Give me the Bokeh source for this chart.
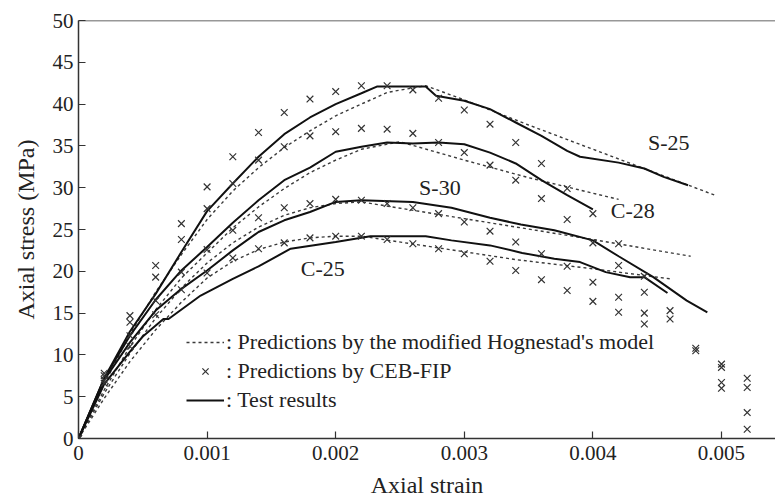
from bokeh.plotting import figure
from bokeh.models import Range1d, FixedTicker, Span, Legend, LegendItem
from bokeh.embed import file_html
from bokeh.resources import INLINE
from bokeh.core.properties import value

# ---------------- data ----------------
# CEB-FIP predictions (x markers)
ceb_strain_S25 = [0, 0.0002, 0.0004, 0.0006, 0.0008, 0.001, 0.0012, 0.0014, 0.0016, 0.0018, 0.002,
                  0.0022, 0.0024, 0.0026, 0.0028, 0.003, 0.0032, 0.0034, 0.0036, 0.0038, 0.004,
                  0.0042, 0.0044, 0.0046, 0.0048, 0.005, 0.0052]
ceb_S25 = [0, 7.8, 14.7, 20.7, 25.7, 30.1, 33.7, 36.6, 39.0, 40.6, 41.5, 42.2, 42.2, 41.7, 40.7,
           39.3, 37.6, 35.4, 32.9, 29.9, 26.9, 23.3, 19.4, 15.3, 10.8, 6.0, 1.1]
ceb_strain_C28 = ceb_strain_S25
ceb_C28 = [0, 7.5, 13.9, 19.3, 23.8, 27.5, 30.5, 33.3, 34.9, 36.2, 36.7, 37.1, 37.0, 36.5, 35.4,
           34.2, 32.7, 30.9, 28.7, 26.2, 23.4, 20.7, 17.5, 14.3, 10.5, 6.7, 3.1]
ceb_strain_S30 = [0, 0.0002, 0.0004, 0.0006, 0.0008, 0.001, 0.0012, 0.0014, 0.0016, 0.0018, 0.002,
                  0.0022, 0.0024, 0.0026, 0.0028, 0.003, 0.0032, 0.0034, 0.0036, 0.0038, 0.004,
                  0.0042, 0.0044, 0.005, 0.0052]
ceb_S30 = [0, 7.0, 12.3, 16.5, 19.9, 22.6, 24.9, 26.4, 27.6, 28.1, 28.6, 28.5, 28.1, 27.6, 26.9,
           25.9, 24.8, 23.5, 22.1, 20.6, 18.7, 16.9, 15.0, 8.9, 7.2]
ceb_strain_C25 = ceb_strain_S30
ceb_C25 = [0, 6.6, 11.0, 14.8, 17.8, 19.8, 21.6, 22.7, 23.4, 24.0, 24.2, 24.2, 23.8, 23.3, 22.7,
           22.1, 21.2, 20.1, 19.0, 17.7, 16.4, 15.1, 13.7, 8.5, 6.1]

# Modified Hognestad's model predictions (dashed)
hog_strain_S25 = [0, 0.0002, 0.0004, 0.0006, 0.0008, 0.001, 0.0012, 0.0014, 0.0016, 0.0018, 0.002,
                  0.0022, 0.0024, 0.0027, 0.003, 0.0035, 0.004, 0.0045, 0.00495]
hog_S25 = [0, 6.5, 12.5, 17.5, 22.0, 26.2, 29.6, 32.4, 34.8, 36.8, 38.6, 40.0, 41.4, 42.2, 40.5,
           37.5, 34.6, 31.7, 29.1]
hog_strain_C28 = [0, 0.0002, 0.0004, 0.0006, 0.0008, 0.001, 0.0012, 0.0014, 0.0016, 0.0018, 0.002,
                  0.0022, 0.0025, 0.003, 0.0035, 0.0042]
hog_C28 = [0, 5.8, 11.0, 15.4, 19.2, 22.2, 25.2, 27.7, 29.9, 31.8, 33.3, 34.6, 35.5, 33.3, 31.2, 28.6]
hog_strain_S30 = [0, 0.0002, 0.0004, 0.0006, 0.0008, 0.001, 0.0012, 0.0014, 0.0016, 0.0018, 0.002,
                  0.0022, 0.003, 0.004, 0.00476]
hog_S30 = [0, 5.4, 10.2, 14.4, 18.0, 21.0, 23.4, 25.3, 26.7, 27.6, 28.1, 28.3, 26.3, 23.8, 21.8]
hog_strain_C25 = [0, 0.0002, 0.0004, 0.0006, 0.0008, 0.001, 0.0012, 0.0014, 0.0016, 0.0018, 0.002,
                  0.0022, 0.0028, 0.0034, 0.004, 0.0046]
hog_C25 = [0, 4.8, 9.2, 13.0, 16.3, 19.2, 21.2, 22.6, 23.5, 24.0, 24.2, 24.2, 22.8, 21.4, 20.3, 19.1]

# Test results (solid)
test_strain_S25 = [0, 0.0002, 0.0004, 0.0006, 0.0008, 0.001, 0.0012, 0.0014, 0.0016, 0.0018, 0.002,
                   0.0022, 0.00232, 0.0027, 0.00278, 0.003, 0.0032, 0.0034, 0.0036, 0.0038, 0.0039,
                   0.0042, 0.0044, 0.00455, 0.00474]
test_S25 = [0, 7.2, 12.8, 17.3, 22.3, 27.2, 30.5, 33.7, 36.4, 38.4, 40.0, 41.3, 42.1, 42.1, 41.0,
            40.4, 39.4, 37.8, 36.2, 34.4, 33.7, 33.0, 32.3, 31.3, 30.3]
test_strain_C28 = [0, 0.0002, 0.0004, 0.0006, 0.0008, 0.001, 0.0012, 0.0014, 0.0016, 0.0018, 0.002,
                   0.0022, 0.0024, 0.0026, 0.0028, 0.003, 0.0032, 0.0034, 0.0036, 0.0038, 0.004]
test_C28 = [0, 7.2, 12.3, 16.6, 20.1, 22.9, 25.8, 28.5, 30.9, 32.4, 34.3, 34.9, 35.4, 35.3, 35.4,
            35.2, 34.2, 32.9, 30.9, 29.1, 27.4]
test_strain_S30 = [0, 0.0002, 0.0004, 0.0006, 0.0008, 0.001, 0.0012, 0.0014, 0.0016, 0.0018, 0.002,
                   0.0022, 0.0026, 0.0029, 0.0032, 0.00344, 0.0037, 0.004, 0.0042, 0.00447, 0.00473,
                   0.00489]
test_S30 = [0, 7.0, 11.5, 15.3, 17.9, 20.1, 22.5, 24.7, 26.1, 27.1, 28.3, 28.5, 28.3, 27.6, 26.4,
            25.6, 24.9, 23.7, 21.8, 19.3, 16.5, 15.1]
test_strain_C25 = [0, 0.0002, 0.0004, 0.0005, 0.00066, 0.0007, 0.00095, 0.0012, 0.0014, 0.00165,
                   0.002, 0.00227, 0.0027, 0.0029, 0.0032, 0.00345, 0.0037, 0.0039, 0.0041, 0.00429,
                   0.0044, 0.00458]
test_C25 = [0, 6.5, 10.4, 12.2, 14.3, 14.3, 17.1, 19.1, 20.6, 22.7, 23.5, 24.2, 24.2, 23.7, 23.1,
            22.2, 21.5, 21.1, 19.9, 19.3, 19.3, 17.4]

# Curve labels
label_names = ["S-25", "C-28", "S-30", "C-25"]
label_x = [0.00459, 0.00431, 0.00281, 0.00190]
label_y = [35.4, 27.3, 30.0, 20.3]

x_ticks = [0, 0.001, 0.002, 0.003, 0.004, 0.005]
x_tick_labels = ["0", "0.001", "0.002", "0.003", "0.004", "0.005"]
y_ticks = [0, 5, 10, 15, 20, 25, 30, 35, 40, 45, 50]

# ---------------- figure ----------------
SERIF = "Liberation Serif"
INK = "#222222"

p = figure(width=775, height=501, output_backend="svg", toolbar_location=None,
           x_range=Range1d(0, 0.00542), y_range=Range1d(0, 50),
           min_border_left=78, min_border_right=0, min_border_top=20, min_border_bottom=63)
p.background_fill_color = "white"
p.border_fill_color = "white"
p.outline_line_color = None
p.xgrid.visible = False
p.ygrid.visible = False

p.xaxis.ticker = FixedTicker(ticks=x_ticks)
p.xaxis.major_label_overrides = {t: l for t, l in zip(x_ticks, x_tick_labels)}
p.yaxis.ticker = FixedTicker(ticks=y_ticks)
p.xaxis.axis_label = "Axial strain"
p.yaxis.axis_label = "Axial stress (MPa)"

for ax in (p.xaxis[0], p.yaxis[0]):
    ax.major_tick_in = 7
    ax.major_tick_out = 0
    ax.minor_tick_line_color = None
    ax.axis_line_width = 1.5
    ax.axis_line_color = "#333333"
    ax.major_tick_line_color = "#333333"
    ax.major_tick_line_width = 1.2
    ax.major_label_text_font = SERIF
    ax.major_label_text_font_size = "21px"
    ax.major_label_text_color = INK
    ax.axis_label_text_font = SERIF
    ax.axis_label_text_font_size = "24px"
    ax.axis_label_text_font_style = "normal"
    ax.axis_label_text_color = INK
p.xaxis.major_label_standoff = 7
p.yaxis.major_label_standoff = 5
p.xaxis.axis_label_standoff = 9
p.yaxis.axis_label_standoff = 11

p.add_layout(Span(location=50, dimension="width", line_color="#333333", line_width=1.5))

DASH_COLOR = "#3a3a3a"
LINE_COLOR = "#111111"
hog_r = []
for xs, ys in ((hog_strain_S25, hog_S25), (hog_strain_C28, hog_C28),
               (hog_strain_S30, hog_S30), (hog_strain_C25, hog_C25)):
    hog_r.append(p.line(xs, ys, line_color=DASH_COLOR, line_width=1.4, line_dash="3 3"))

test_r = []
for xs, ys in ((test_strain_S25, test_S25), (test_strain_C28, test_C28),
               (test_strain_S30, test_S30), (test_strain_C25, test_C25)):
    test_r.append(p.line(xs, ys, line_color=LINE_COLOR, line_width=2))

ceb_r = []
for xs, ys in ((ceb_strain_S25, ceb_S25), (ceb_strain_C28, ceb_C28),
               (ceb_strain_S30, ceb_S30), (ceb_strain_C25, ceb_C25)):
    ceb_r.append(p.scatter(xs, ys, marker="x", size=9.5, line_color="#333333", line_width=1.2))

p.text(x=label_x, y=label_y, text=label_names, text_font=value(SERIF), text_font_size="22px",
       text_align="center", text_baseline="middle", text_color=INK)

legend = Legend(items=[
    LegendItem(label=": Predictions by the modified Hognestad's model", renderers=[hog_r[0]]),
    LegendItem(label=": Predictions by CEB-FIP", renderers=[ceb_r[0]]),
    LegendItem(label=": Test results", renderers=[test_r[0]]),
], location=(108, 25))
legend.border_line_color = None
legend.background_fill_alpha = 0
legend.label_text_font = SERIF
legend.label_text_font_size = "22px"
legend.label_text_color = INK
legend.glyph_width = 38
legend.glyph_height = 22
legend.label_height = 22
legend.spacing = 3
legend.padding = 4
legend.margin = 0
legend.label_standoff = 2
p.add_layout(legend)

open("out.html", "w").write(file_html(p, INLINE))
